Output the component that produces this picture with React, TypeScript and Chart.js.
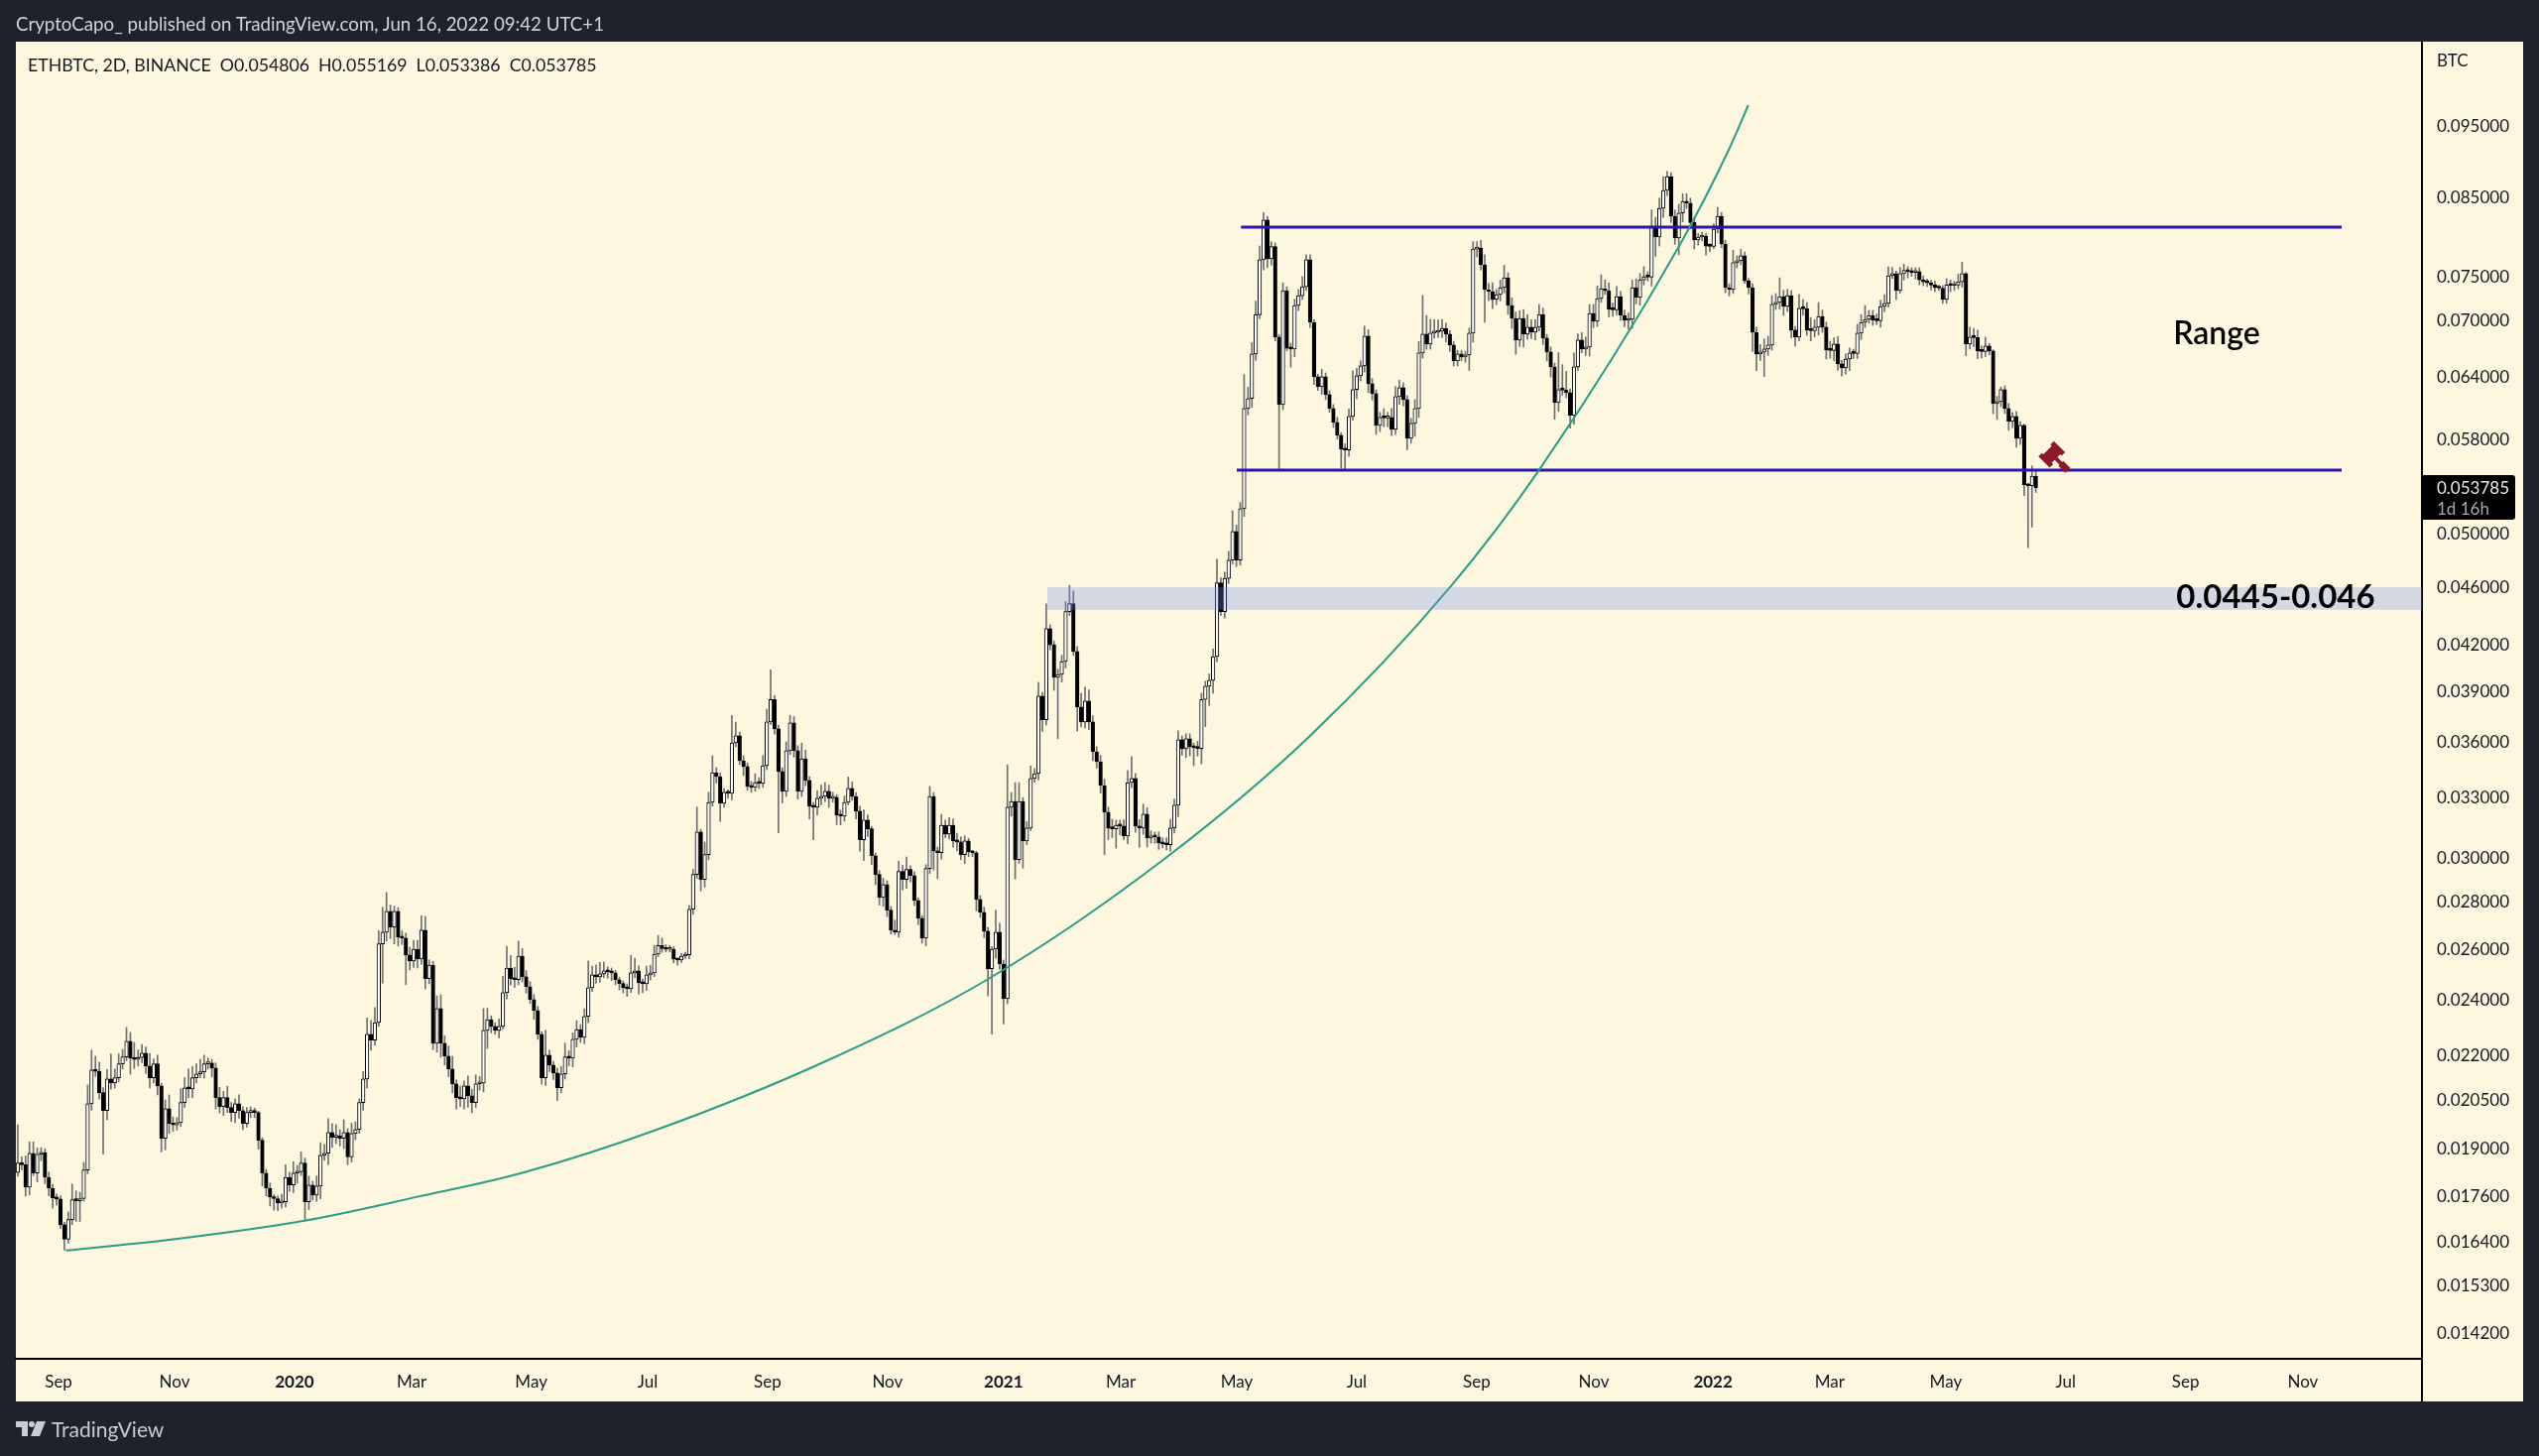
import React, { useEffect, useRef } from 'react';
import { Chart, registerables } from 'chart.js';

Chart.register(...registerables);

const FONT = 'Lato, "Open Sans", sans-serif';
const INK = '#131722';

// closes in 1e-5 BTC, one per 2D bar, starting Aug 2019
const closes = [
  1857, 1852, 1788, 1886, 1828, 1883, 1888, 1816, 1785, 1758,
  1755, 1685, 1647, 1699, 1753, 1750, 1756, 1837, 2039, 2150,
  2146, 2075, 2017, 2120, 2107, 2124, 2171, 2195, 2250, 2191,
  2186, 2193, 2208, 2164, 2124, 2171, 2097, 1931, 2023, 1977,
  1972, 1979, 2043, 2091, 2087, 2124, 2137, 2144, 2171, 2174,
  2157, 2059, 2030, 2059, 2027, 2011, 2039, 2017, 1977, 2011,
  2017, 2011, 1925, 1828, 1785, 1760, 1756, 1744, 1747, 1816,
  1794, 1828, 1832, 1857, 1747, 1794, 1766, 1791, 1880, 1886,
  1949, 1934, 1938, 1931, 1949, 1875, 1946, 1958, 2043, 2120,
  2275, 2254, 2317, 2623, 2672, 2761, 2693, 2761, 2651, 2647,
  2578, 2553, 2601, 2561, 2680, 2483, 2537, 2243, 2369, 2243,
  2198, 2154, 2104, 2059, 2055, 2097, 2065, 2043, 2104, 2107,
  2289, 2328, 2303, 2289, 2303, 2429, 2525, 2483, 2479, 2573,
  2490, 2452, 2403, 2362, 2275, 2124, 2201, 2167, 2140, 2091,
  2137, 2195, 2191, 2257, 2292, 2264, 2340, 2448, 2498, 2490,
  2502, 2514, 2510, 2506, 2479, 2464, 2448, 2444, 2506, 2514,
  2467, 2463, 2498, 2506, 2581, 2616, 2604, 2600, 2601, 2561,
  2557, 2573, 2578, 2770, 2926, 3129, 2903, 3019, 3278, 3435,
  3414, 3273, 3330, 3325, 3600, 3640, 3500, 3468, 3361, 3356,
  3382, 3377, 3473, 3721, 3855, 3680, 3441, 3335, 3556, 3715,
  3556, 3335, 3511, 3393, 3258, 3253, 3299, 3309, 3335, 3299,
  3304, 3213, 3208, 3278, 3351, 3309, 3233, 3090, 3188, 3144,
  3014, 2926, 2822, 2880, 2766, 2680, 2672, 2940, 2903, 2949,
  2921, 2809, 2731, 2647, 2954, 3309, 3037, 3028, 3162, 3119,
  3162, 3085, 3080, 3019, 3085, 3033, 3028, 2813, 2757, 2676,
  2522, 2601, 2672, 2541, 2406, 3253, 3283, 2995, 3283, 3085,
  3148, 3404, 3430, 3875, 3733, 4310, 4202, 3991, 4010, 4092,
  4427, 4484, 4157, 3809, 3721, 3845, 3721, 3550, 3495, 3366,
  3228, 3148, 3144, 3162, 3158, 3109, 3382, 3404, 3158, 3148,
  3218, 3099, 3109, 3104, 3075, 3070, 3066, 3148, 3263, 3618,
  3567, 3623, 3578, 3573, 3569, 3855, 3936, 3973, 4124, 4632,
  4427, 4665, 4801, 5023, 4801, 5206, 6097, 6194, 6643, 7066,
  7706, 8204, 7718, 7867, 6822, 6135, 7341, 6703, 6695, 7171,
  7283, 7386, 7706, 6983, 6409, 6310, 6409, 6232, 6097, 5965,
  5845, 5719, 5710, 6021, 6281, 6419, 6520, 6833, 6340, 6241,
  5937, 6012, 6007, 6012, 5900, 6212, 6300, 6183, 5818, 5955,
  6097, 6654, 6854, 6748, 6865, 6875, 6886, 6918, 6854, 6737,
  6571, 6643, 6612, 6632, 6865, 7837, 7851, 7645, 7352, 7329,
  7238, 7295, 7375, 7491, 7171, 7027, 6790, 7027, 6854, 6929,
  6875, 6929, 7071, 6811, 6664, 6510, 6154, 6281, 6276, 6251,
  6031, 6510, 6790, 6695, 6716, 7082, 6994, 7250, 7363, 7341,
  7127, 7122, 7272, 7060, 7005, 7016, 7375, 7261, 7467, 7503,
  7498, 8125, 7987, 8357, 8596, 8786, 8254, 7975, 8296, 8449,
  8424, 8172, 7950, 7987, 8000, 7875, 7870, 8087, 8254, 7900,
  7375, 7352, 7670, 7694, 7755, 7455, 7375, 6875, 6643, 6664,
  6695, 6737, 7183, 7205, 7272, 7160, 7283, 6897, 6822, 7138,
  7133, 6897, 6892, 6929, 7049, 6929, 6685, 6680, 6748, 6540,
  6500, 6591, 6654, 6649, 6865, 6983, 7016, 7060, 7005, 7000,
  7160, 7194, 7515, 7540, 7341, 7540, 7578, 7565, 7553, 7565,
  7467, 7443, 7431, 7406, 7375, 7370, 7238, 7406, 7401, 7406,
  7443, 7540, 6748, 6822, 6817, 6674, 6669, 6727, 6674, 6145,
  6164, 6281, 6097, 5974, 6021, 5818, 5937, 5407, 5398, 5481,
  5379,
];
const firstOpen = 1830;

// wick lengths, in tenths of a percent of the body edge
const wickUp = [
  62, 10, 14, 18, 18, 10, 8, 6, 8, 6,
  6, 5, 4, 12, 25, 14, 10, 12, 30, 32,
  22, 14, 8, 15, 40, 14, 16, 12, 22, 14,
  25, 12, 14, 10, 20, 8, 14, 4, 14, 22,
  10, 8, 22, 16, 30, 18, 16, 20, 14, 8,
  6, 8, 16, 10, 18, 8, 8, 14, 6, 8,
  6, 4, 2, 4, 6, 8, 4, 4, 12, 20,
  8, 18, 10, 18, 8, 14, 6, 16, 20, 14,
  22, 14, 18, 10, 20, 6, 16, 12, 6, 12,
  26, 22, 24, 21, 40, 30, 10, 8, 6, 10,
  8, 12, 14, 14, 23, 22, 8, 6, 20, 22,
  12, 16, 20, 6, 18, 8, 16, 10, 14, 10,
  35, 18, 6, 6, 12, 26, 35, 20, 18, 24,
  12, 10, 8, 8, 6, 4, 40, 8, 6, 8,
  12, 22, 10, 10, 14, 8, 12, 43, 14, 16,
  18, 14, 6, 6, 4, 4, 4, 6, 28, 20,
  8, 6, 14, 12, 14, 16, 12, 6, 6, 4,
  2, 4, 4, 6, 8, 40, 4, 20, 16, 27,
  8, 6, 6, 4, 44, 22, 6, 8, 6, 8,
  14, 8, 16, 20, 48, 6, 6, 6, 14, 12,
  10, 8, 25, 14, 6, 6, 12, 18, 14, 10,
  8, 4, 8, 10, 18, 10, 6, 8, 16, 8,
  4, 4, 6, 10, 6, 6, 16, 16, 10, 20,
  6, 6, 4, 4, 6, 16, 6, 6, 17, 8,
  12, 10, 12, 8, 8, 4, 2, 2, 6, 8,
  6, 4, 35, 14, 6, 69, 14, 30, 30, 6,
  10, 20, 8, 22, 6, 40, 6, 6, 8, 10,
  16, 29, 20, 8, 22, 22, 18, 10, 8, 10,
  10, 8, 14, 8, 8, 10, 19, 35, 8, 10,
  16, 10, 8, 6, 8, 8, 10, 14, 10, 14,
  6, 8, 8, 6, 10, 10, 8, 10, 12, 38,
  8, 10, 14, 33, 10, 10, 55, 18, 18, 22,
  22, 12, 6, 8, 6, 4, 12, 6, 8, 10,
  10, 16, 8, 8, 4, 4, 12, 6, 6, 6,
  8, 4, 8, 12, 30, 12, 8, 16, 10, 8,
  6, 8, 14, 8, 14, 16, 12, 8, 6, 8,
  14, 18, 63, 30, 22, 20, 18, 14, 8, 6,
  6, 6, 6, 6, 8, 12, 10, 12, 16, 10,
  14, 8, 12, 20, 8, 12, 10, 12, 14, 20,
  12, 12, 16, 10, 6, 8, 6, 60, 40, 30,
  6, 22, 10, 12, 16, 14, 14, 20, 22, 14,
  12, 10, 16, 8, 8, 10, 12, 14, 10, 16,
  8, 26, 14, 16, 22, 8, 6, 10, 14, 12,
  12, 8, 8, 6, 6, 4, 4, 8, 14, 6,
  6, 6, 20, 8, 10, 6, 4, 6, 8, 12,
  16, 14, 14, 14, 30, 10, 10, 8, 6, 22,
  14, 10, 20, 12, 22, 10, 8, 14, 10, 12,
  6, 8, 8, 6, 14, 12, 22, 8, 8, 10,
  10, 14, 14, 10, 4, 10, 10, 6, 6, 6,
  6, 6, 4, 4, 6, 4, 4, 10, 8, 6,
  12, 18, 2, 16, 14, 12, 8, 14, 4, 2,
  8, 4, 6, 8, 6, 8, 6, 2, 2, 16,
  7,
];
const wickDown = [
  6, 8, 14, 12, 4, 14, 10, 10, 12, 16,
  10, 6, 17, 6, 8, 32, 32, 4, 6, 10,
  8, 10, 66, 14, 10, 8, 6, 8, 6, 25,
  14, 10, 8, 12, 16, 8, 14, 21, 18, 16,
  10, 8, 6, 8, 14, 14, 8, 6, 10, 8,
  14, 18, 10, 14, 8, 14, 16, 12, 10, 6,
  8, 8, 14, 20, 12, 14, 18, 12, 8, 8,
  10, 12, 16, 6, 28, 12, 8, 10, 20, 8,
  18, 16, 10, 12, 16, 12, 8, 10, 6, 12,
  14, 16, 8, 6, 60, 14, 18, 26, 14, 10,
  46, 14, 10, 14, 8, 16, 8, 10, 14, 22,
  14, 12, 14, 18, 12, 16, 18, 16, 8, 10,
  14, 28, 10, 6, 12, 4, 10, 10, 12, 8,
  8, 10, 6, 14, 8, 10, 12, 10, 10, 20,
  8, 8, 12, 14, 12, 8, 10, 10, 6, 10,
  8, 6, 10, 12, 8, 10, 8, 12, 6, 8,
  18, 14, 10, 8, 6, 4, 6, 4, 4, 6,
  8, 4, 4, 6, 8, 6, 18, 12, 8, 6,
  10, 28, 6, 8, 10, 6, 6, 14, 6, 8,
  6, 8, 6, 6, 4, 8, 92, 18, 8, 6,
  10, 12, 8, 8, 20, 50, 12, 10, 8, 14,
  6, 15, 14, 8, 4, 6, 12, 18, 32, 12,
  14, 16, 12, 14, 10, 6, 4, 8, 16, 14,
  10, 8, 10, 8, 12, 8, 30, 40, 10, 6,
  8, 10, 14, 8, 14, 8, 6, 18, 8, 10,
  42, 98, 14, 8, 39, 8, 14, 30, 6, 42,
  6, 4, 6, 10, 18, 8, 8, 20, 92, 12,
  10, 6, 6, 37, 8, 10, 12, 14, 10, 12,
  65, 18, 14, 30, 14, 6, 12, 8, 10, 30,
  10, 14, 8, 10, 10, 6, 8, 10, 8, 18,
  10, 14, 14, 28, 12, 24, 42, 30, 20, 8,
  6, 10, 8, 6, 10, 8, 12, 10, 14, 10,
  6, 16, 14, 10, 6, 98, 8, 4, 28, 12,
  8, 6, 6, 8, 12, 6, 12, 8, 6, 8,
  6, 30, 30, 10, 6, 14, 8, 10, 14, 10,
  14, 10, 14, 14, 10, 8, 12, 10, 18, 8,
  20, 14, 8, 8, 8, 8, 8, 10, 12, 10,
  8, 8, 6, 8, 24, 14, 12, 8, 50, 14,
  14, 8, 10, 8, 14, 16, 22, 10, 20, 8,
  10, 12, 6, 10, 14, 16, 26, 14, 8, 8,
  20, 14, 6, 6, 10, 14, 10, 8, 6, 6,
  12, 10, 8, 8, 10, 14, 14, 10, 12, 8,
  6, 14, 30, 14, 14, 8, 10, 10, 26, 14,
  8, 10, 14, 8, 6, 14, 8, 4, 6, 6,
  8, 10, 6, 8, 6, 4, 10, 30, 26, 10,
  38, 10, 8, 8, 10, 14, 8, 12, 14, 6,
  10, 8, 16, 10, 12, 8, 14, 12, 16, 10,
  13, 10, 18, 8, 8, 10, 8, 6, 8, 6,
  10, 8, 6, 4, 14, 4, 10, 10, 6, 10,
  8, 6, 6, 8, 6, 4, 6, 6, 10, 8,
  6, 8, 18, 8, 14, 12, 10, 8, 6, 16,
  25, 8, 8, 14, 10, 14, 10, 17, 93, 63,
  7,
];

// growth curve: bar number and price (1e-5 BTC)
const curveBars = [12.4, 41.7, 73.9, 103, 129.8, 164.1, 208.3, 250.2, 295.2, 332.7, 369.3, 392, 428.1, 441, 445.9];
const curvePrices = [1618, 1649, 1696, 1761, 1828, 1955, 2181, 2483, 2995, 3634, 4609, 5534, 7875, 9179, 9832];

const rangeTop = 0.08112;
const rangeBottom = 0.05533;
const rangeTopBars = [315.2, 598.8];
const rangeBottomBars = [314.1, 598.8];

const zoneHigh = 0.046;
const zoneLow = 0.0444;
const zoneFromBar = 265.3;

const priceTicks = [0.095, 0.085, 0.075, 0.07, 0.064, 0.058, 0.05, 0.046, 0.042, 0.039, 0.036, 0.033, 0.03, 0.028, 0.026, 0.024, 0.022, 0.0205, 0.019, 0.0176, 0.0164, 0.0153, 0.0142];
const timeTickBars = [10.5, 40.4, 71.3, 101.5, 132.3, 162.3, 193.2, 224.1, 254, 284.2, 314.1, 345, 375.9, 406.1, 436.8, 466.9, 496.8, 527.7, 558.6, 588.8];
const timeTickLabels = ['Sep', 'Nov', '2020', 'Mar', 'May', 'Jul', 'Sep', 'Nov', '2021', 'Mar', 'May', 'Jul', 'Sep', 'Nov', '2022', 'Mar', 'May', 'Jul', 'Sep', 'Nov'];

const lastPrice = 0.053785;
const BAR_COUNT = 620;

const price = (v: number) => v * 1e-5;
const opens = closes.map((_, i) => (i === 0 ? firstOpen : closes[i - 1]));
const highs = closes.map((c, i) => price(Math.max(c, opens[i]) * (1 + wickUp[i] / 1000)));
const lows = closes.map((c, i) => price(Math.min(c, opens[i]) * (1 - wickDown[i] / 1000)));

const decorations = {
  id: 'decorations',
  beforeDraw(chart: Chart) {
    const { ctx } = chart;
    ctx.save();
    ctx.fillStyle = '#1e222d';
    ctx.fillRect(0, 0, 2560, 1468);
    ctx.fillStyle = '#fdf7df';
    ctx.fillRect(16, 42, 2528, 1371);
    ctx.restore();
  },
  afterDatasetsDraw(chart: Chart) {
    const { ctx, chartArea, scales } = chart;
    const x = scales.x;
    const y = scales.y;
    ctx.save();
    // support zone sits over the candles, slightly see-through
    const zoneLeft = x.getPixelForValue(zoneFromBar);
    const zoneTop = y.getPixelForValue(zoneHigh);
    ctx.fillStyle = 'rgba(118,145,235,0.3)';
    ctx.fillRect(zoneLeft, zoneTop, chartArea.right - zoneLeft, y.getPixelForValue(zoneLow) - zoneTop);

    ctx.fillStyle = '#000';
    ctx.textBaseline = 'middle';
    ctx.textAlign = 'center';
    ctx.font = `600 32px ${FONT}`;
    ctx.fillText('Range', x.getPixelForValue(566.6), y.getPixelForValue(0.06853));
    ctx.font = `700 33px ${FONT}`;
    ctx.fillText('0.0445-0.046', x.getPixelForValue(581.8), y.getPixelForValue(0.0453));

    // gavel
    ctx.translate(x.getPixelForValue(524.1), y.getPixelForValue(0.05672));
    ctx.rotate(Math.PI / 4);
    ctx.fillStyle = '#8b1a2a';
    ctx.fillRect(-6, -9, 12, 18);
    ctx.fillRect(-8, -11, 16, 5);
    ctx.fillRect(-8, 6, 16, 5);
    ctx.fillRect(5, -2, 10, 4);
    ctx.fillRect(13, -3.5, 10, 7);
    ctx.restore();
  },
  afterDraw(chart: Chart) {
    const { ctx, chartArea, scales } = chart;
    const tagY = scales.y.getPixelForValue(lastPrice);
    ctx.save();
    // price axis line runs on through the time axis strip
    ctx.fillStyle = '#000';
    ctx.fillRect(chartArea.right - 1, chartArea.bottom, 2, 43);

    ctx.beginPath();
    ctx.roundRect(chartArea.right, tagY - 13, 94, 45, [0, 3, 3, 0]);
    ctx.fillStyle = '#000';
    ctx.fill();
    ctx.textBaseline = 'middle';
    ctx.font = `17px ${FONT}`;
    ctx.fillStyle = '#e8e8e8';
    ctx.fillText('0.053785', chartArea.right + 15, tagY);
    ctx.fillStyle = '#a8a8a8';
    ctx.fillText('1d 16h', chartArea.right + 15, tagY + 21);
    ctx.fillStyle = INK;
    ctx.fillText('BTC', chartArea.right + 15, 62);
    ctx.restore();
  },
};

const App: React.FC = () => {
  const chartRef = useRef<HTMLCanvasElement>(null);
  const chartInstance = useRef<Chart>();

  useEffect(() => {
    if (chartRef.current) {
      chartInstance.current = new Chart(chartRef.current, {
        type: 'bar',
        data: {
          datasets: [
            {
              type: 'line',
              order: 1,
              data: curveBars.map((b, i) => ({ x: b, y: price(curvePrices[i]) })),
              borderColor: '#2a9d84',
              borderWidth: 2,
              pointRadius: 0,
              cubicInterpolationMode: 'monotone',
            },
            {
              type: 'line',
              order: 2,
              data: rangeTopBars.map((b) => ({ x: b, y: rangeTop })),
              borderColor: '#2a16ad',
              borderWidth: 3,
              pointRadius: 0,
            },
            {
              type: 'line',
              order: 2,
              data: rangeBottomBars.map((b) => ({ x: b, y: rangeBottom })),
              borderColor: '#2a16ad',
              borderWidth: 3,
              pointRadius: 0,
            },
            {
              type: 'bar',
              order: 4,
              data: closes.map((c, i) => ({ x: i, y: [price(opens[i]), price(c)] })),
              backgroundColor: closes.map((c, i) => (c >= opens[i] ? '#ffffff' : '#000000')),
              borderColor: '#000000',
              borderWidth: 1,
              borderSkipped: false,
              barThickness: 3.6,
              minBarLength: 2,
              grouped: false,
            },
            {
              type: 'bar',
              order: 5,
              data: closes.map((_, i) => ({ x: i, y: [lows[i], highs[i]] })),
              backgroundColor: '#6f6f6f',
              borderWidth: 0,
              barThickness: 1,
              grouped: false,
            },
          ],
        } as any,
        options: {
          animation: false,
          responsive: false,
          devicePixelRatio: 1,
          events: [],
          layout: { padding: { left: 16, right: 16, top: 42, bottom: 56 } },
          plugins: { legend: { display: false }, tooltip: { enabled: false }, title: { display: false } },
          scales: {
            x: {
              type: 'linear',
              offset: false,
              min: -0.5,
              max: BAR_COUNT - 0.5,
              grid: { display: false, drawTicks: false },
              border: { display: true, color: '#000', width: 2 },
              afterBuildTicks: (scale: any) => {
                scale.ticks = timeTickBars.map((value) => ({ value }));
              },
              afterFit: (scale: any) => {
                scale.height = 42;
                scale.paddingLeft = 0;
                scale.paddingRight = 0;
              },
              ticks: {
                autoSkip: false,
                maxRotation: 0,
                padding: 13,
                color: INK,
                font: (ctx: any) => ({
                  family: FONT,
                  size: 17,
                  weight: /^\d/.test(timeTickLabels[ctx.index] ?? '') ? 'bold' : 'normal',
                }),
                callback: (_v: any, i: number) => timeTickLabels[i],
              },
            },
            y: {
              type: 'logarithmic',
              position: 'right',
              min: 0.013643,
              max: 0.10866,
              grid: { display: false, drawTicks: false },
              border: { display: true, color: '#000', width: 2 },
              afterBuildTicks: (scale: any) => {
                scale.ticks = priceTicks.map((value) => ({ value }));
              },
              afterFit: (scale: any) => {
                scale.width = 102;
                scale.paddingTop = 0;
                scale.paddingBottom = 0;
              },
              ticks: {
                autoSkip: false,
                padding: 15,
                color: INK,
                font: { family: FONT, size: 17 },
                callback: (v: any) => Number(v).toFixed(6),
              },
            },
          },
        },
        plugins: [decorations],
      } as any);
    }

    return () => {
      if (chartInstance.current) {
        chartInstance.current.destroy();
      }
    };
  }, []);

  return (
    <div style={{ position: 'absolute', left: 0, top: 0, width: 2560, height: 1468, overflow: 'hidden', fontFamily: FONT }}>
      <canvas ref={chartRef} width={2560} height={1468} style={{ display: 'block' }} />
      <div style={{ position: 'absolute', left: 16, top: 12, fontSize: 18.7, lineHeight: '24px', color: '#d1d4dc', whiteSpace: 'pre' }}>
        CryptoCapo_ published on TradingView.com, Jun 16, 2022 09:42 UTC+1
      </div>
      <div style={{ position: 'absolute', left: 28, top: 54, fontSize: 17.7, lineHeight: '24px', color: INK, whiteSpace: 'pre' }}>
        ETHBTC, 2D, BINANCE  O0.054806  H0.055169  L0.053386  C0.053785
      </div>
      <svg style={{ position: 'absolute', left: 16, top: 1433 }} width={30} height={15} viewBox="0 0 30 15">
        <path d="M0 0h12v15H6V6H0z M21 0h9l-6 15h-9z" fill="#c9ccd4" />
        <circle cx={16} cy={3} r={3} fill="#c9ccd4" />
      </svg>
      <div style={{ position: 'absolute', left: 52, top: 1428, fontSize: 21, lineHeight: '26px', color: '#c9ccd4' }}>TradingView</div>
    </div>
  );
};

export default App;
